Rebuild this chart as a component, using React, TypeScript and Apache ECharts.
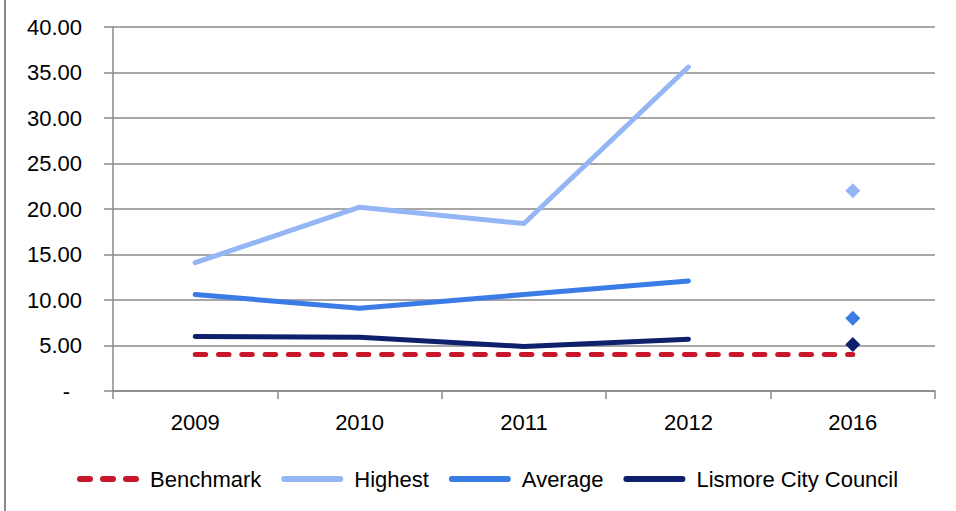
import React, { useEffect, useRef } from "react";
import * as echarts from "echarts";

const categories = ["2009", "2010", "2011", "2012", "2016"];
const benchmark = [4.0, 4.0, 4.0, 4.0, 4.0];
const highest = [14.1, 20.2, 18.4, 35.6, null];
const average = [10.6, 9.1, 10.6, 12.1, null];
const lismore = [6.0, 5.9, 4.9, 5.7, null];
const highest2016 = [null, null, null, null, 22.0];
const average2016 = [null, null, null, null, 8.0];
const lismore2016 = [null, null, null, null, 5.1];
const legendNames = ["Benchmark", "Highest", "Average", "Lismore City Council"];

const FONT = "'Liberation Sans', Arial, sans-serif";
const FS = 22;
const C_BENCH = "#C8162A";
const C_HIGH = "#94B6F4";
const C_AVG = "#3A7BE6";
const C_LIS = "#0E1F6B";
const GRID = "#8a8a8a";

const SOLID_ICON = "path://M3,0 L59,0 A3,3 0 0 1 59,6 L3,6 A3,3 0 0 1 3,0 Z";
const DASH_ICON =
  "path://M3,0 L13,0 A3,3 0 0 1 13,6 L3,6 A3,3 0 0 1 3,0 Z M26,0 L36,0 A3,3 0 0 1 36,6 L26,6 A3,3 0 0 1 26,0 Z M49,0 L59,0 A3,3 0 0 1 59,6 L49,6 A3,3 0 0 1 49,0 Z";

export default function App() {
  const ref = useRef<HTMLDivElement>(null);
  useEffect(() => {
    if (!ref.current) return;
    const chart = echarts.init(ref.current, null, { renderer: "svg" });
    const lineSeries = (name: string, data: any[], color: string, dashed = false) => ({
      name,
      type: "line",
      data,
      symbol: "none",
      connectNulls: false,
      lineStyle: {
        color,
        width: 5,
        type: dashed ? [10.5, 12.8] : "solid",
        cap: "round",
        join: "round",
      },
      itemStyle: { color },
      z: dashed ? 3 : 2,
    });
    const diamond = (name: string, data: any[], color: string) => ({
      name,
      type: "scatter",
      data,
      symbol: "diamond",
      symbolSize: 15,
      itemStyle: { color, opacity: 1 },
      z: 4,
    });
    chart.setOption({
      animation: false,
      backgroundColor: "#ffffff",
      textStyle: { fontFamily: FONT },
      grid: { left: 113, right: 21, top: 27, bottom: 120, containLabel: false },
      legend: {
        data: legendNames.map((n, i) => ({ name: n, icon: i === 0 ? DASH_ICON : SOLID_ICON })),
        top: 463,
        left: 72,
        itemWidth: 62,
        itemHeight: 6,
        itemGap: 20,
        symbolKeepAspect: false,
        textStyle: { fontFamily: FONT, fontSize: FS, color: "#000", padding: [0, 0, 0, 6] },
      },
      xAxis: {
        type: "category",
        data: categories,
        boundaryGap: true,
        axisLine: { lineStyle: { color: GRID, width: 1.5 } },
        axisTick: { show: true, length: 8, lineStyle: { color: GRID, width: 1.5 } },
        axisLabel: { fontFamily: FONT, fontSize: FS, color: "#000", margin: 20 },
      },
      yAxis: {
        type: "value",
        min: 0,
        max: 40,
        interval: 5,
        axisLine: { show: true, lineStyle: { color: GRID, width: 1.5 } },
        axisTick: { show: true, length: 9, lineStyle: { color: GRID, width: 1.5 } },
        splitLine: { lineStyle: { color: GRID, width: 1.5 } },
        axisLabel: {
          fontFamily: FONT,
          fontSize: FS,
          color: "#000",
          margin: 31,
          formatter: (v: number) => (v === 0 ? "{dash|-}" : v.toFixed(2)),
          rich: { dash: { fontFamily: FONT, fontSize: FS, color: "#000", padding: [0, 12, 0, 0] } },
        },
      },
      graphic: [
        {
          type: "line",
          shape: { x1: 5, y1: 0, x2: 5, y2: 511 },
          style: { stroke: GRID, lineWidth: 2 },
        },
      ],
      series: [
        lineSeries("Benchmark", benchmark, C_BENCH, true),
        lineSeries("Highest", highest, C_HIGH),
        lineSeries("Average", average, C_AVG),
        lineSeries("Lismore City Council", lismore, C_LIS),
        diamond("Highest 2016", highest2016, C_HIGH),
        diamond("Average 2016", average2016, C_AVG),
        diamond("Lismore 2016", lismore2016, C_LIS),
      ],
    });
    return () => chart.dispose();
  }, []);
  return <div ref={ref} style={{ width: 956, height: 511, position: "absolute", left: 0, top: 0 }} />;
}
